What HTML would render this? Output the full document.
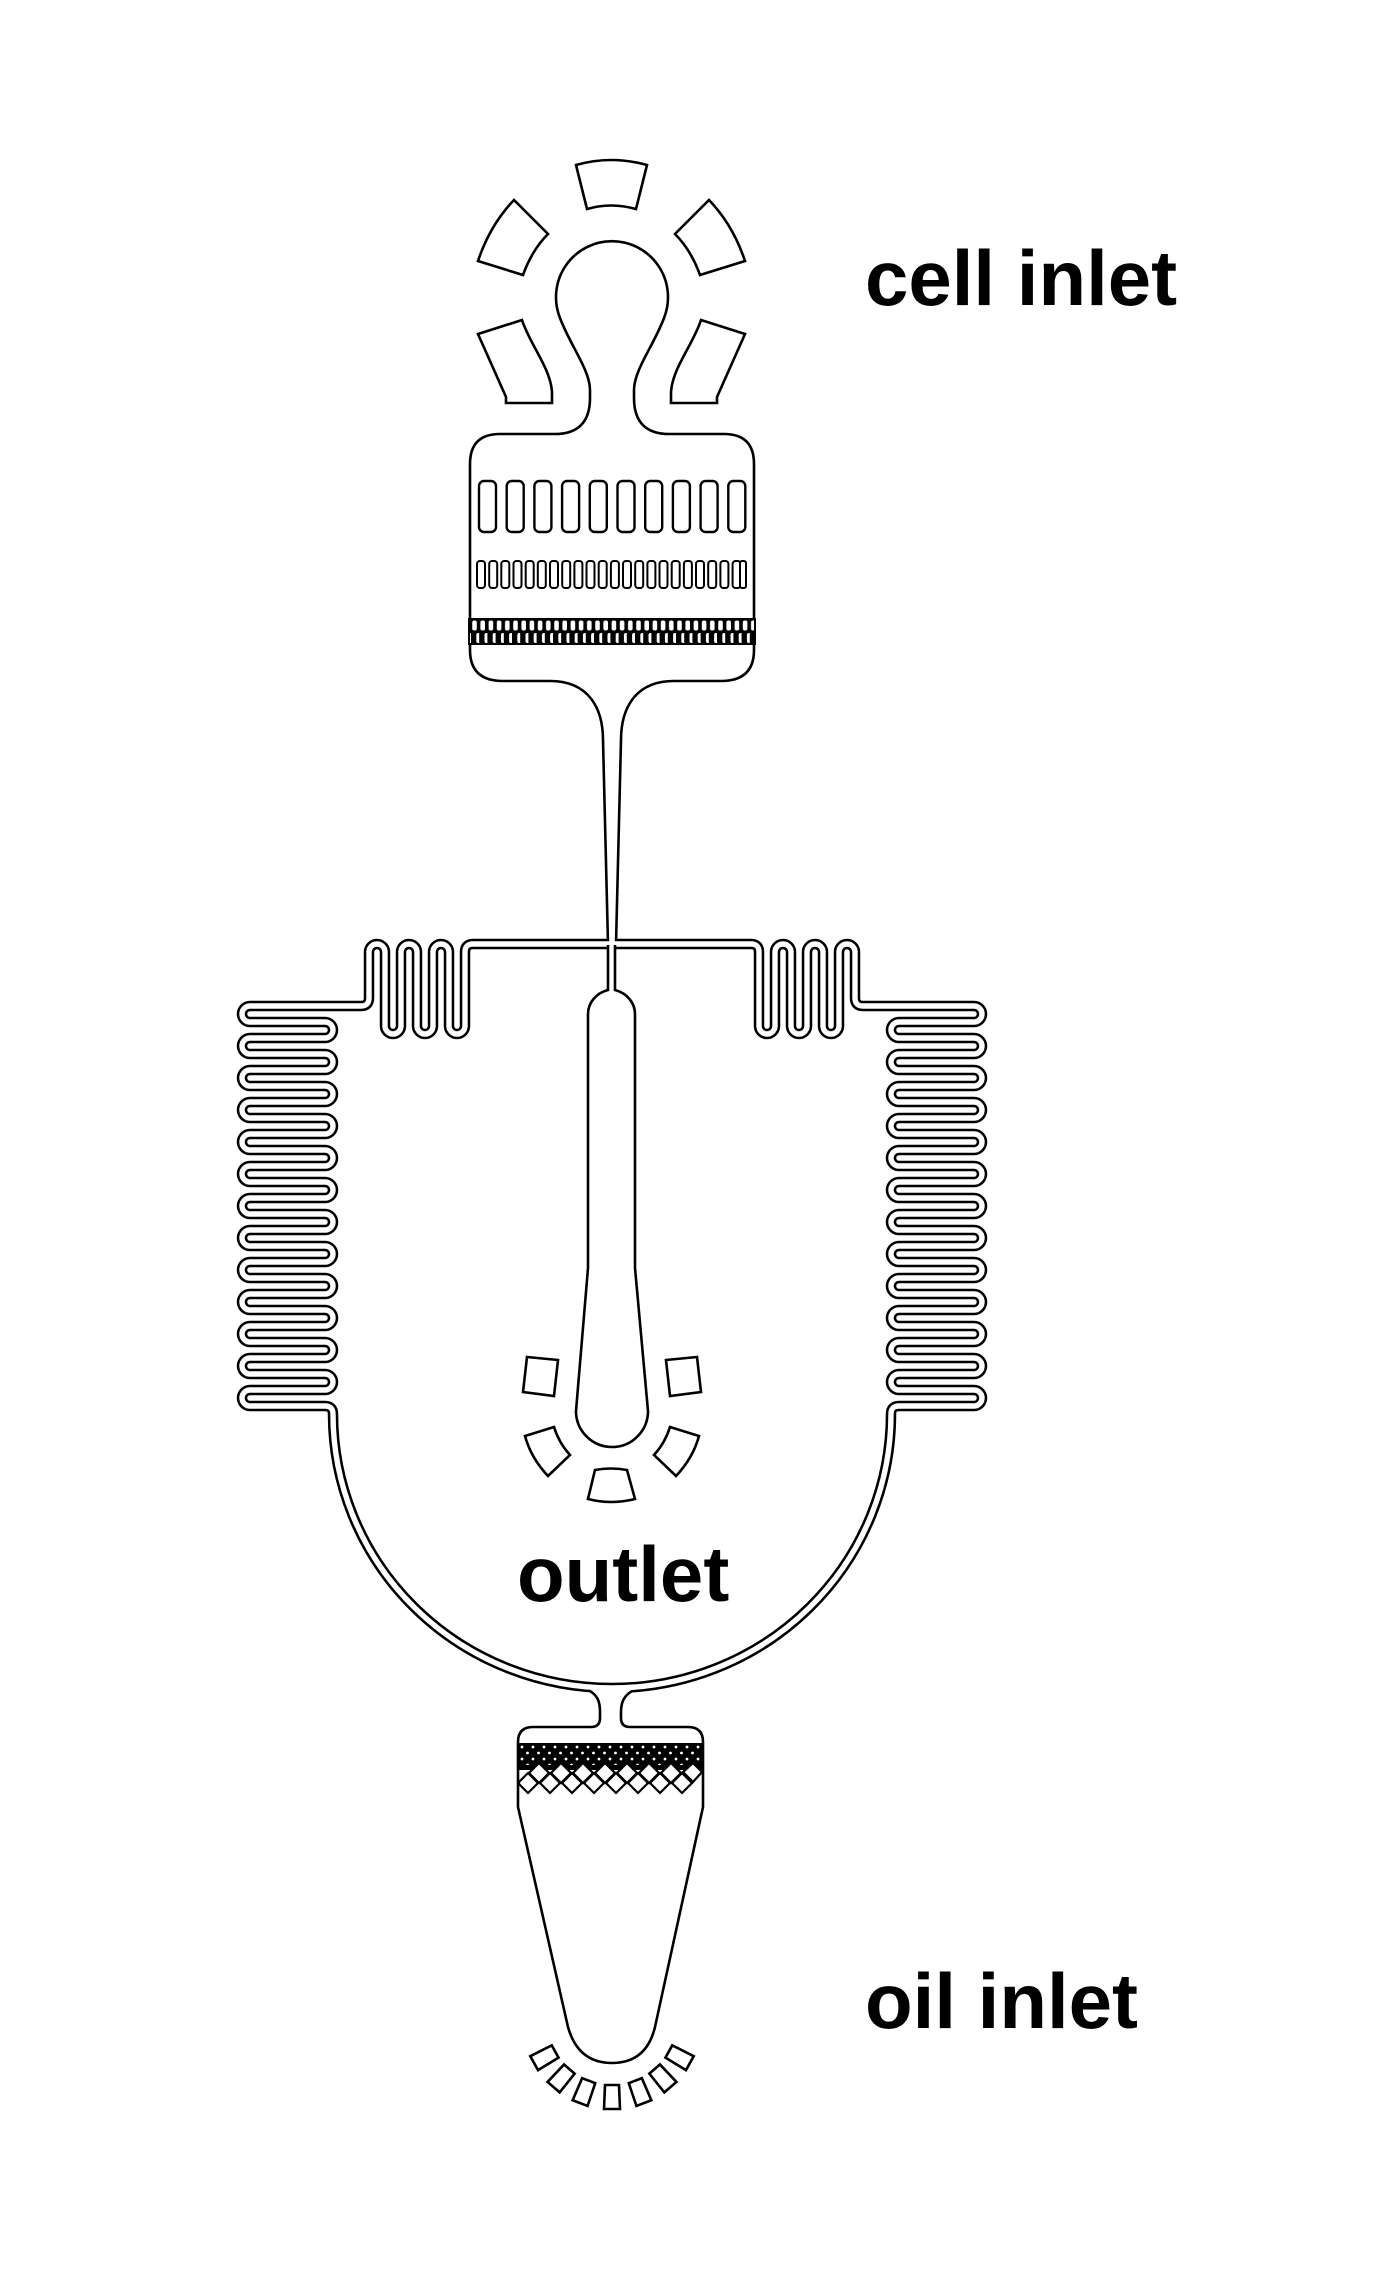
<!DOCTYPE html>
<html><head><meta charset="utf-8"><style>
html,body{margin:0;padding:0;background:#fff;}
svg{display:block;}
text{font-family:"Liberation Sans",Arial,sans-serif;font-weight:bold;font-size:78px;fill:#000;}
</style></head><body>
<svg width="1375" height="2275" viewBox="0 0 1375 2275" xmlns="http://www.w3.org/2000/svg">
<defs>
<path id="half" d="M 612 944 H 473 Q 465 944 465 952 V 1026 A 8 8 0 0 1 449 1026 V 952 A 8 8 0 0 0 433 952 V 1026 A 8 8 0 0 1 417 1026 V 952 A 8 8 0 0 0 401 952 V 1026 A 8 8 0 0 1 385 1026 V 952 A 8 8 0 0 0 369 952 V 998 Q 369 1006 361 1006 H 250
A 8 8 0 0 0 250 1022 H 325 A 8 8 0 0 1 325 1038 H 250
A 8 8 0 0 0 250 1054 H 325 A 8 8 0 0 1 325 1070 H 250
A 8 8 0 0 0 250 1086 H 325 A 8 8 0 0 1 325 1102 H 250
A 8 8 0 0 0 250 1118 H 325 A 8 8 0 0 1 325 1134 H 250
A 8 8 0 0 0 250 1150 H 325 A 8 8 0 0 1 325 1166 H 250
A 8 8 0 0 0 250 1182 H 325 A 8 8 0 0 1 325 1198 H 250
A 8 8 0 0 0 250 1214 H 325 A 8 8 0 0 1 325 1230 H 250
A 8 8 0 0 0 250 1246 H 325 A 8 8 0 0 1 325 1262 H 250
A 8 8 0 0 0 250 1278 H 325 A 8 8 0 0 1 325 1294 H 250
A 8 8 0 0 0 250 1310 H 325 A 8 8 0 0 1 325 1326 H 250
A 8 8 0 0 0 250 1342 H 325 A 8 8 0 0 1 325 1358 H 250
A 8 8 0 0 0 250 1374 H 325 A 8 8 0 0 1 325 1390 H 250
A 8 8 0 0 0 250 1406 H 325 Q 333 1406 333 1414 A 279 274 0 0 0 612 1688"/>
<pattern id="slits" patternUnits="userSpaceOnUse" x="471" y="0" width="8.2" height="2275">
<rect x="1.2" y="620.5" width="4.6" height="10" rx="2" fill="#fff"/>
<rect x="5.3" y="633" width="4.6" height="10" rx="2" fill="#fff"/>
</pattern>
<pattern id="dots" patternUnits="userSpaceOnUse" x="519" y="1743" width="11" height="12">
<circle cx="3" cy="4" r="1.4" fill="#fff"/>
<circle cx="8.5" cy="10" r="1.4" fill="#fff"/>
</pattern>
</defs>

<g fill="none" stroke="#000" stroke-width="10.5" stroke-linejoin="round">
<use href="#half"/>
<use href="#half" transform="translate(1224 0) scale(-1 1)"/>
</g>

<path d="M 608 944 L 603 740 C 603 710 590 681 550 681 H 503 Q 470 681 470 650 V 464 Q 470 434 500 434 H 555 C 575 434 590 425 590 398 V 390 C 590 370 570 345 560 318 A 56 56 0 1 1 664 318 C 654 345 634 370 634 390 V 398 C 634 425 649 434 669 434 H 724 Q 754 434 754 464 V 650 Q 754 681 721 681 H 674 C 634 681 621 710 621 740 L 616 944" fill="#fff" stroke="#000" stroke-width="2.6"/>

<path d="M 588 1690 C 598 1695 600 1702 600 1712 V 1718 Q 600 1727 591 1727 H 533 Q 518 1727 518 1742 V 1807 L 568 2027 C 575 2052 590 2063 612 2063 C 634 2063 649 2052 655 2027 L 703 1807 V 1742 Q 703 1727 688 1727 H 630 Q 621 1727 621 1718 V 1712 C 621 1702 624 1695 634 1690" fill="#fff" stroke="#000" stroke-width="2.6"/>

<g fill="none" stroke="#fff" stroke-width="5.4" stroke-linejoin="round">
<use href="#half"/>
<use href="#half" transform="translate(1224 0) scale(-1 1)"/>
</g>

<path d="M 608 945 V 990 C 596 993 588 1003 588 1014 V 1268 L 576 1411 A 36 36 0 0 0 648 1411 L 635 1268 V 1014 C 635 1003 627 993 615 990 V 945" fill="#fff" stroke="#000" stroke-width="2.6"/>

<g fill="#fff" stroke="#000" stroke-width="2.6" stroke-linejoin="miter">
<path d="M 576 165 Q 611 155 647 165 L 636 209 Q 611 202 587 209 Z"/>
<path d="M 478 261 Q 490 225 514 200 L 548 234 Q 532 250 523 275 Z"/>
<path d="M 745 261 Q 733 225 709 200 L 675 234 Q 691 250 700 275 Z"/>
<path d="M 478 334 L 522 320 C 530 345 552 370 552 394 V 403 H 506 V 397 Z"/>
<path d="M 745 334 L 701 320 C 693 345 671 370 671 394 V 403 H 717 V 397 Z"/>
<path d="M 527 1357 L 558 1360 L 554 1396 L 523 1392 Z"/>
<path d="M 697 1357 L 666 1360 L 670 1396 L 701 1392 Z"/>
<path d="M 525 1436 L 554 1427 Q 559 1443 570 1455 L 548 1476 Q 531 1458 525 1436 Z"/>
<path d="M 699 1436 L 670 1427 Q 665 1443 654 1455 L 676 1476 Q 693 1458 699 1436 Z"/>
<path d="M 595 1470 Q 611 1467 627 1470 L 635 1499 Q 611 1505 588 1499 Z"/>
<g transform="translate(612 2020)">
<polygon points="-7,65 7,65 8,89 -8,89"/>
<polygon points="-7,65 7,65 8,89 -8,89" transform="rotate(21)"/>
<polygon points="-7,65 7,65 8,89 -8,89" transform="rotate(-21)"/>
<polygon points="-7,65 7,65 8,89 -8,89" transform="rotate(41)"/>
<polygon points="-7,65 7,65 8,89 -8,89" transform="rotate(-41)"/>
<polygon points="-7,65 7,65 8,89 -8,89" transform="rotate(61)"/>
<polygon points="-7,65 7,65 8,89 -8,89" transform="rotate(-61)"/>
</g>
</g>

<g fill="#fff" stroke="#000" stroke-width="2.4">
<rect x="479" y="481" width="17" height="51" rx="5"/>
<rect x="506.7" y="481" width="17" height="51" rx="5"/>
<rect x="534.4" y="481" width="17" height="51" rx="5"/>
<rect x="562.1" y="481" width="17" height="51" rx="5"/>
<rect x="589.8" y="481" width="17" height="51" rx="5"/>
<rect x="617.5" y="481" width="17" height="51" rx="5"/>
<rect x="645.2" y="481" width="17" height="51" rx="5"/>
<rect x="672.9" y="481" width="17" height="51" rx="5"/>
<rect x="700.6" y="481" width="17" height="51" rx="5"/>
<rect x="728.3" y="481" width="17" height="51" rx="5"/>
</g>
<g fill="#fff" stroke="#000" stroke-width="2">
<rect x="477" y="561" width="8" height="27" rx="3"/>
<rect x="489.2" y="561" width="8" height="27" rx="3"/>
<rect x="501.3" y="561" width="8" height="27" rx="3"/>
<rect x="513.5" y="561" width="8" height="27" rx="3"/>
<rect x="525.7" y="561" width="8" height="27" rx="3"/>
<rect x="537.8" y="561" width="8" height="27" rx="3"/>
<rect x="550" y="561" width="8" height="27" rx="3"/>
<rect x="562.2" y="561" width="8" height="27" rx="3"/>
<rect x="574.4" y="561" width="8" height="27" rx="3"/>
<rect x="586.5" y="561" width="8" height="27" rx="3"/>
<rect x="598.7" y="561" width="8" height="27" rx="3"/>
<rect x="610.9" y="561" width="8" height="27" rx="3"/>
<rect x="623" y="561" width="8" height="27" rx="3"/>
<rect x="635.2" y="561" width="8" height="27" rx="3"/>
<rect x="647.4" y="561" width="8" height="27" rx="3"/>
<rect x="659.5" y="561" width="8" height="27" rx="3"/>
<rect x="671.7" y="561" width="8" height="27" rx="3"/>
<rect x="683.9" y="561" width="8" height="27" rx="3"/>
<rect x="696" y="561" width="8" height="27" rx="3"/>
<rect x="708.2" y="561" width="8" height="27" rx="3"/>
<rect x="720.4" y="561" width="8" height="27" rx="3"/>
<rect x="732.6" y="561" width="8" height="27" rx="3"/>
<rect x="740" y="561" width="6" height="27" rx="2"/>
</g>
<rect x="468" y="618" width="288" height="27" fill="#000"/>
<rect x="470" y="618" width="284" height="27" fill="url(#slits)"/>

<rect x="519" y="1743" width="183" height="27" fill="#000"/>
<rect x="519" y="1743" width="183" height="22" fill="url(#dots)"/>
<g fill="#fff" stroke="#000" stroke-width="2.2">
<path d="M539 1763 l10 10 l-10 10 l-10 -10 Z"/>
<path d="M561 1763 l10 10 l-10 10 l-10 -10 Z"/>
<path d="M583 1763 l10 10 l-10 10 l-10 -10 Z"/>
<path d="M605 1763 l10 10 l-10 10 l-10 -10 Z"/>
<path d="M627 1763 l10 10 l-10 10 l-10 -10 Z"/>
<path d="M649 1763 l10 10 l-10 10 l-10 -10 Z"/>
<path d="M671 1763 l10 10 l-10 10 l-10 -10 Z"/>
<path d="M693 1763 l9 9 l-9 10 l-10 -10 Z"/>
<path d="M528 1773 l10 10 l-10 10 l-9 -9 v-2 Z"/>
<path d="M550 1773 l10 10 l-10 10 l-10 -10 Z"/>
<path d="M572 1773 l10 10 l-10 10 l-10 -10 Z"/>
<path d="M594 1773 l10 10 l-10 10 l-10 -10 Z"/>
<path d="M616 1773 l10 10 l-10 10 l-10 -10 Z"/>
<path d="M638 1773 l10 10 l-10 10 l-10 -10 Z"/>
<path d="M660 1773 l10 10 l-10 10 l-10 -10 Z"/>
<path d="M682 1773 l10 10 l-10 10 l-10 -10 Z"/>
</g>

<text x="865" y="305">cell inlet</text>
<text x="517" y="1601">outlet</text>
<text x="865" y="2028">oil inlet</text>
</svg>
</body></html>
